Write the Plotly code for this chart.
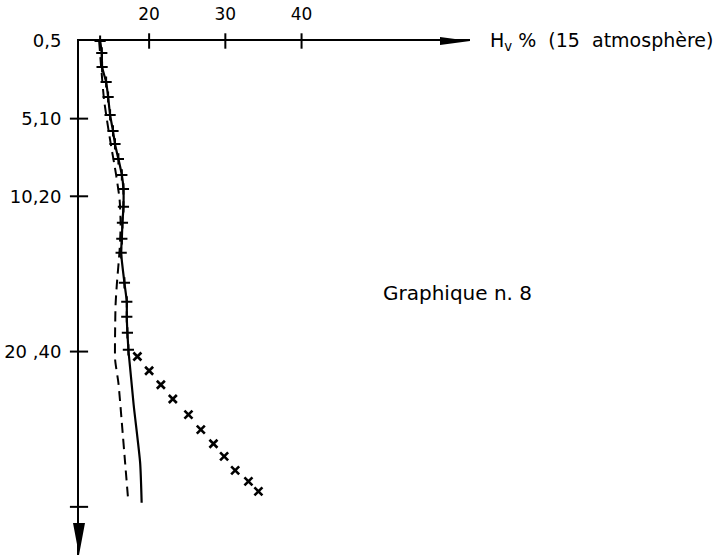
import plotly.graph_objects as go

# ---- data (Hv % at 15 atm vs depth) ----
HV_TICKS = [20, 30, 40]
HV_TICK_LABELS = ["20", "30", "40"]
DEPTH_TICKS = [0, 10, 20, 40, 60]          # tick marks on the depth axis
DEPTH_LABEL_TICKS = [0, 10, 20, 40]        # ticks that carry a label
DEPTH_LABELS = ["0,5", "5,10", "10,20", "20 ,40"]

# solid curve with "+" marks (measured points)
PLUS_HV = [13.57, 13.79, 13.83, 14.36, 14.62, 14.88, 15.26, 15.52, 15.97, 16.42,
           16.63, 16.63, 16.50, 16.42, 16.33, 16.76, 17.07, 17.07, 17.15, 17.28]
PLUS_DEPTH = [0.0, 1.54, 3.35, 5.28, 7.21, 9.52, 11.58, 13.26, 15.19, 17.25,
              19.05, 21.36, 23.42, 25.48, 27.28, 31.15, 33.59, 35.52, 37.58, 39.77]
# continuation of the solid curve without marks
SOLID_TAIL_HV = [17.28, 17.97, 18.82, 19.02]
SOLID_TAIL_DEPTH = [39.77, 46.85, 54.31, 59.46]

# dashed curve
DASH_HV = [13.44, 14.09, 14.88, 15.67, 16.13, 16.26, 16.13, 15.76, 15.60, 15.54,
           15.54, 15.97, 16.42, 16.85, 17.28]
DASH_DEPTH = [0.0, 7.59, 12.74, 17.25, 20.46, 23.68, 26.90, 31.40, 33.98, 37.19,
              41.06, 44.02, 49.16, 54.31, 59.46]

# "x" marked series
X_HV = [18.46, 20.00, 21.54, 23.11, 25.16, 26.78, 28.44, 29.84, 31.29, 33.03, 34.34]
X_DEPTH = [40.63, 42.47, 44.27, 46.11, 48.13, 50.06, 51.87, 53.50, 55.30, 56.72, 58.01]

X_RANGE = [10.8, 62.1]
Y_RANGE = [66.2, 0]

FONT = "DejaVu Sans"
BLACK = "black"

fig = go.Figure()

# dashed curve
fig.add_trace(go.Scatter(
    x=DASH_HV, y=DASH_DEPTH, mode="lines",
    line=dict(color=BLACK, width=2, dash="10px,6px", shape="spline", smoothing=0.6),
    cliponaxis=False, hoverinfo="skip"))

# solid tail
fig.add_trace(go.Scatter(
    x=SOLID_TAIL_HV, y=SOLID_TAIL_DEPTH, mode="lines",
    line=dict(color=BLACK, width=2.2, shape="spline", smoothing=0.6),
    cliponaxis=False, hoverinfo="skip"))

# solid with + marks
fig.add_trace(go.Scatter(
    x=PLUS_HV, y=PLUS_DEPTH, mode="lines+markers",
    line=dict(color=BLACK, width=2.2, shape="spline", smoothing=0.6),
    marker=dict(symbol="cross-thin", size=8, color=BLACK, line=dict(width=2, color=BLACK)),
    cliponaxis=False, hoverinfo="skip"))

# x marks
fig.add_trace(go.Scatter(
    x=X_HV, y=X_DEPTH, mode="markers",
    marker=dict(symbol="x-thin", size=8, color=BLACK, line=dict(width=2.6, color=BLACK)),
    cliponaxis=False, hoverinfo="skip"))

# crossing tick marks on the axes
fig.add_trace(go.Scatter(
    x=HV_TICKS, y=[Y_RANGE[1]] * len(HV_TICKS), mode="markers",
    marker=dict(symbol="line-ns", size=11, line=dict(width=2, color=BLACK)),
    cliponaxis=False, hoverinfo="skip"))
fig.add_trace(go.Scatter(
    x=[X_RANGE[0]] * (len(DEPTH_TICKS) - 1), y=DEPTH_TICKS[1:], mode="markers",
    marker=dict(symbol="line-ew", size=13, line=dict(width=2, color=BLACK)),
    cliponaxis=False, hoverinfo="skip"))

fig.update_layout(
    width=726, height=556,
    margin=dict(l=79, r=256, t=41, b=1),
    paper_bgcolor="white", plot_bgcolor="white",
    showlegend=False,
    font=dict(family=FONT, color=BLACK),
    xaxis=dict(
        range=X_RANGE, side="top", showline=True, linecolor=BLACK, linewidth=2,
        showgrid=False, zeroline=False, tickmode="array",
        tickvals=HV_TICKS, ticktext=HV_TICK_LABELS,
        ticks="outside", ticklen=12, tickcolor="rgba(0,0,0,0)",
        tickfont=dict(family=FONT, size=17, color=BLACK)),
    yaxis=dict(
        range=Y_RANGE, showline=True, linecolor=BLACK, linewidth=2,
        showgrid=False, zeroline=False, tickmode="array",
        tickvals=DEPTH_LABEL_TICKS, ticktext=DEPTH_LABELS,
        ticks="outside", ticklen=12, tickcolor="rgba(0,0,0,0)",
        tickfont=dict(family=FONT, size=18, color=BLACK)),
    shapes=[
        # arrow head of horizontal axis
        dict(type="path", xref="paper", yref="paper", xsizemode="pixel", ysizemode="pixel",
             xanchor=1, yanchor=1, path="M0,0 L-30,4 L-30,-4 Z",
             fillcolor=BLACK, line=dict(width=0)),
        # arrow head of vertical axis
        dict(type="path", xref="paper", yref="paper", xsizemode="pixel", ysizemode="pixel",
             xanchor=0, yanchor=0, path="M0,0 L-6,32 L6,32 Z",
             fillcolor=BLACK, line=dict(width=0)),
    ],
    annotations=[
        dict(text="H<sub>v</sub> %  (15  atmosphère)", xref="paper", yref="paper",
             x=1.046, y=1.0, xanchor="left", yanchor="middle", showarrow=False,
             font=dict(family=FONT, size=19, color=BLACK)),
        dict(text="Graphique n. 8", xref="paper", yref="paper",
             x=0.772, y=0.51, xanchor="left", yanchor="middle", showarrow=False,
             font=dict(family=FONT, size=20, color=BLACK)),
    ],
)

fig.write_html("out.html")
